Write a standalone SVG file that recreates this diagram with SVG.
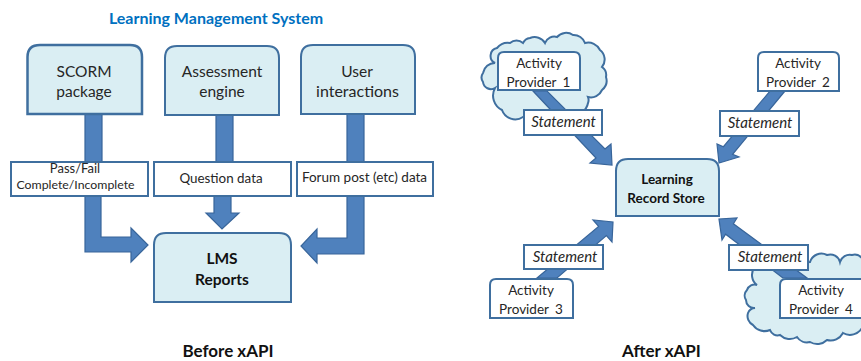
<svg xmlns="http://www.w3.org/2000/svg" width="861" height="361" viewBox="0 0 861 361">
<style>
text{font-family:Lato,"Liberation Sans",sans-serif;text-anchor:middle;fill:#262626}
.blue{fill:#daeef3;stroke:#3f6f9f;stroke-width:2}
.white{fill:#fff;stroke:#3f6f9f;stroke-width:2}
.arrow{fill:#4f81bd;stroke:#38659a;stroke-width:1.2}
.big{font-size:15.500px}
.mid{font-size:13.500px}
.prov{word-spacing:3px}
.small{font-size:13px}
.it{font-size:15px;font-style:italic}
.b{font-weight:700;fill:#111}
.cap{font-size:17px;font-weight:700;fill:#111}
</style>
<rect width="861" height="361" fill="#fff"/>
<text x="216" y="24" font-size="16" font-weight="700" style="fill:#0070c0">Learning Management System</text>
<g id="clouds">
<path class="blue" d="M495 63A8 8 0 0 1 497 48A14 14 0 0 1 510 43A10 10 0 0 1 523 43A9 9 0 0 1 530 38A12 12 0 0 1 545 43A10 10 0 0 1 557 37A12 12 0 0 1 573 35A12 12 0 0 1 585 43A13 13 0 0 1 600 50A12 12 0 0 1 602 67A10 10 0 0 1 606 77A12 12 0 0 1 602 90A12 12 0 0 1 588 97A8 8 0 0 1 588 103A14 14 0 0 1 570 114L523 117A14 14 0 0 1 502 110A16 16 0 0 1 495 88A8 8 0 0 1 483 82A8 8 0 0 1 483 73A12 12 0 0 1 495 63Z"/>
<path class="blue" d="M757 285A8 8 0 0 0 747 290A8 8 0 0 0 746 300A8 8 0 0 0 755 308A8 8 0 0 0 748 313A10 10 0 0 0 753 325A14 14 0 0 0 770 330A8 8 0 0 0 780 335A14 14 0 0 0 797 337A12 12 0 0 0 810 342A14 14 0 0 0 827 340A14 14 0 0 0 843 333A14 14 0 0 0 862 328L862 258A10 10 0 0 0 852 255A10 10 0 0 0 840 262A10 10 0 0 0 827 255A12 12 0 0 0 810 262L772 265A11 11 0 0 0 757 285Z"/>
</g>
<g id="connectors">
<rect class="arrow" x="85" y="114" width="17" height="50"/>
<path class="arrow" d="M85 195H101V237H131V228L148 245L131 262V252H85Z"/>
<rect class="arrow" x="216" y="114" width="17" height="50"/>
<path class="arrow" d="M214 195H231V213H239L222 229L206 213H214Z"/>
<rect class="arrow" x="347" y="114" width="17" height="50"/>
<path class="arrow" d="M347 195H364V254H317V263L301 246L317 229V238H347Z"/>
<polygon class="arrow" points="533,91 547,91 605,149 611,144 612,165 590,163 596,158"/>
<polygon class="arrow" points="770,91 785,91 732.6,154.3 739,157 719,163 717,144 723.4,146.7"/>
<polygon class="arrow" points="537,278 598.6,226.4 593,220 613,222 612,242 606.4,235.6 557,278"/>
<polygon class="arrow" points="783,278 725.6,234.2 722,240 719,219 737,218 733.4,223.8 807,278"/>
</g>
<g id="scorm"><path class="blue" style="stroke-width:2.500" d="M27.500 114V57Q27.500 45 40 45H130Q142 45 142 57V114Z"/><text class="big" x="84" y="77" font-size="15">SCORM</text><text class="big" x="84" y="97">package</text></g>
<g id="assessment"><path class="blue" d="M165 115V58Q165 46 177 46H267Q279 46 279 58V115Z"/><text class="big" x="222" y="77">Assessment</text><text class="big" x="222" y="97">engine</text></g>
<g id="user"><path class="blue" d="M301 114V57Q301 45 313 45H403Q415 45 415 57V114Z"/><text class="big" x="357" y="77">User</text><text class="big" x="357.500" y="97" style="font-size:16px">interactions</text></g>
<g id="passfail"><rect class="white" x="11" y="162" width="137" height="34"/><text class="small" x="75" y="173">Pass/Fail</text><text x="75.500" y="189" font-size="12.300" style="font-size:12.300px">Complete/Incomplete</text></g>
<g id="question"><rect class="white" x="154" y="162" width="137" height="34"/><text class="small" x="221" y="183" style="font-size:13.400px">Question data</text></g>
<g id="forum"><rect class="white" x="297" y="162" width="136" height="34"/><text class="small" x="364.500" y="182" style="font-size:13.500px">Forum post (etc) data</text></g>
<g id="lms"><path class="blue" d="M154 302V245Q154 233 166 233H279Q291 233 291 245V302Z"/><text class="big b" x="222" y="264">LMS</text><text class="big b" x="222" y="285">Reports</text></g>
<g id="lrs"><path class="blue" d="M616 216V171Q616 159 628 159H707Q719 159 719 171V216Z"/><text class="mid b" x="667" y="184">Learning</text><text class="mid b" x="666" y="203">Record Store</text></g>
<g id="ap1"><path class="white" d="M498 90V58Q498 52 504 52H574Q580 52 580 58V90Z"/><text class="mid" x="539" y="68">Activity</text><text class="mid prov" x="538.500" y="87">Provider 1</text></g>
<g id="ap2"><path class="white" d="M758 91V58Q758 52 764 52H833Q839 52 839 58V91Z"/><text class="mid" x="798" y="68">Activity</text><text class="mid prov" x="798" y="87">Provider 2</text></g>
<g id="ap3"><path class="white" d="M490 318V285Q490 279 496 279H567Q573 279 573 285V318Z"/><text class="mid" x="531" y="295">Activity</text><text class="mid prov" x="531" y="314">Provider 3</text></g>
<g id="ap4"><path class="white" d="M780 318V285Q780 279 786 279H862V318Z"/><text class="mid" x="821" y="295">Activity</text><text class="mid prov" x="821" y="314">Provider 4</text></g>
<g id="st1"><rect class="white" x="524" y="110" width="78" height="25"/><text class="it" x="563.500" y="127">Statement</text></g>
<g id="st2"><rect class="white" x="720" y="111" width="79" height="25"/><text class="it" x="760" y="128">Statement</text></g>
<g id="st3"><rect class="white" x="524" y="245" width="79" height="24"/><text class="it" x="565" y="262">Statement</text></g>
<g id="st4"><rect class="white" x="729" y="245" width="79" height="25"/><text class="it" x="770" y="262">Statement</text></g>
<text class="cap" x="228" y="357">Before xAPI</text>
<text class="cap" x="661.500" y="357">After xAPI</text>
</svg>
